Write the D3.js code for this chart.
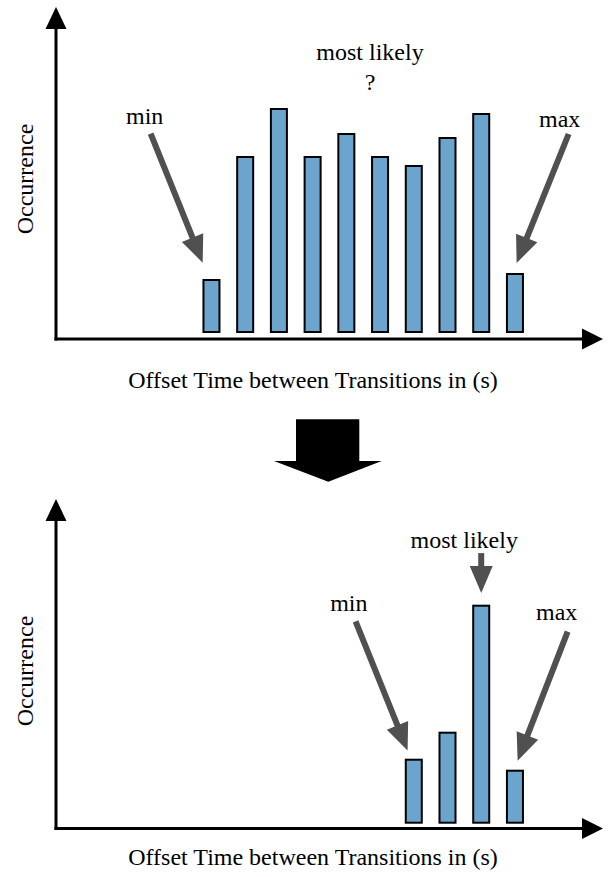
<!DOCTYPE html>
<html>
<head>
<meta charset="utf-8">
<script src="https://cdn.jsdelivr.net/npm/d3@7"></script>
<style>
  body { margin: 0; background: #fff; }
  text { font-family: "Liberation Serif", "Times New Roman", serif; font-size: 24px; fill: #000; }
</style>
</head>
<body>
<div class="chart"></div>
<script>
// data: offset time bins and occurrence counts (arbitrary units)
const bins = ["t1", "t2", "t3", "t4", "t5", "t6", "t7", "t8", "t9", "t10"];
const beforeValues = [5.2, 17.5, 22.3, 17.5, 19.8, 17.5, 16.6, 19.4, 21.8, 5.8];
const afterBins = ["t7", "t8", "t9", "t10"];
const afterValues = [6.3, 9.0, 21.7, 5.2];
const xLabel = "Offset Time between Transitions in (s)";
const yLabel = "Occurrence";

const width = 608, height = 877;
const barColor = "#6ba5cd";
const arrowColor = "#505050";

const svg = d3.select(".chart").append("svg")
    .attr("width", width)
    .attr("height", height)

// shared x scale for both histograms
const xScale = d3.scaleBand()
    .domain(bins)
    .range([194.6, 531.8])
    .paddingInner(.525)
    .paddingOuter(.2625)

// panels: before (top) and after (bottom)
const panels = [
    {
        bins: bins, values: beforeValues,
        originX: 56, axisY: 339, barBase: 332, yTip: 7, xTip: 603,
        yLabelY: 179, xLabelY: 388,
        notes: [
            { bin: "t1", text: "min", dx: -8.8, gap: 17.3, vx: -52, vy: -129, lx: -6, ly: -10 },
            { bin: "t10", text: "max", dx: 1.7, gap: 11, vx: 52, vy: -129, lx: -9, ly: -7 }
        ],
        freeText: [{ text: "most likely", x: 370, y: 60 }, { text: "?", x: 370, y: 90 }]
    },
    {
        bins: afterBins, values: afterValues,
        originX: 56, axisY: 828.5, barBase: 822.7, yTip: 499, xTip: 603,
        yLabelY: 671, xLabelY: 865,
        notes: [
            { bin: "t7", text: "min", dx: -6.2, gap: 9.3, vx: -52, vy: -129, lx: -6.7, ly: -10 },
            { bin: "t9", text: "most likely", dx: 0, gap: 12.6, vx: 0, vy: -40, lx: -17, ly: -4.7 },
            { bin: "t10", text: "max", dx: 2.7, gap: 10, vx: 50, vy: -129, lx: -11, ly: -11.7 }
        ],
        freeText: []
    }
];

// draws a thick arrow from start to tip
function drawArrow(g, sx, sy, tx, ty, shaftW, headL, headW, color) {
    const len = Math.hypot(tx - sx, ty - sy);
    const ux = (tx - sx) / len, uy = (ty - sy) / len;
    const bx = tx - ux * headL, by = ty - uy * headL;
    g.append("line")
        .attr("x1", sx).attr("y1", sy)
        .attr("x2", bx + ux * 1).attr("y2", by + uy * 1)
        .attr("stroke", color)
        .attr("stroke-width", shaftW)
    g.append("polygon")
        .attr("points", [
            [tx, ty],
            [bx - uy * headW / 2, by + ux * headW / 2],
            [bx + uy * headW / 2, by - ux * headW / 2]
        ].map(p => p.join(",")).join(" "))
        .attr("fill", color)
}

panels.forEach(p => {
    const g = svg.append("g")

    const yScale = d3.scaleLinear()
        .domain([0, 32])
        .range([p.barBase, p.barBase - 320])

    // bars
    g.selectAll("rect")
        .data(p.values)
        .join("rect")
        .attr("x", (d, i) => xScale(p.bins[i]))
        .attr("y", d => yScale(d))
        .attr("width", xScale.bandwidth())
        .attr("height", d => p.barBase - yScale(d))
        .attr("fill", barColor)
        .attr("stroke", "#000")
        .attr("stroke-width", 2)

    // axes with arrow heads
    g.append("line")
        .attr("x1", p.originX).attr("y1", p.axisY + 1.5)
        .attr("x2", p.originX).attr("y2", p.yTip + 20)
        .attr("stroke", "#000").attr("stroke-width", 3)
    g.append("polygon")
        .attr("points", `${p.originX},${p.yTip} ${p.originX - 10.5},${p.yTip + 22} ${p.originX + 10.5},${p.yTip + 22}`)
    g.append("line")
        .attr("x1", p.originX - 1.5).attr("y1", p.axisY)
        .attr("x2", p.xTip - 19).attr("y2", p.axisY)
        .attr("stroke", "#000").attr("stroke-width", 3)
    g.append("polygon")
        .attr("points", `${p.xTip},${p.axisY} ${p.xTip - 21},${p.axisY - 10.5} ${p.xTip - 21},${p.axisY + 10.5}`)

    // axis labels
    g.append("text")
        .attr("x", 313).attr("y", p.xLabelY)
        .attr("text-anchor", "middle")
        .text(xLabel)
    g.append("text")
        .attr("transform", `translate(33,${p.yLabelY}) rotate(-90)`)
        .attr("text-anchor", "middle")
        .text(yLabel)

    // annotations
    p.notes.forEach(n => {
        const i = p.bins.indexOf(n.bin);
        const tx = xScale(n.bin) + xScale.bandwidth() / 2 + n.dx;
        const ty = yScale(p.values[i]) - n.gap;
        const sx = tx + n.vx, sy = ty + n.vy;
        drawArrow(g, sx, sy, tx, ty, 6, 27, 23, arrowColor)
        g.append("text")
            .attr("x", sx + n.lx).attr("y", sy + n.ly)
            .attr("text-anchor", "middle")
            .text(n.text)
    })
    p.freeText.forEach(t => {
        g.append("text")
            .attr("x", t.x).attr("y", t.y)
            .attr("text-anchor", "middle")
            .text(t.text)
    })
})

// big transition arrow between panels
svg.append("polygon")
    .attr("points", "296,419.3 359.3,419.3 359.3,461 381.7,461 328.3,481.7 274,461 296,461")
    .attr("fill", "#000")
</script>
</body>
</html>
